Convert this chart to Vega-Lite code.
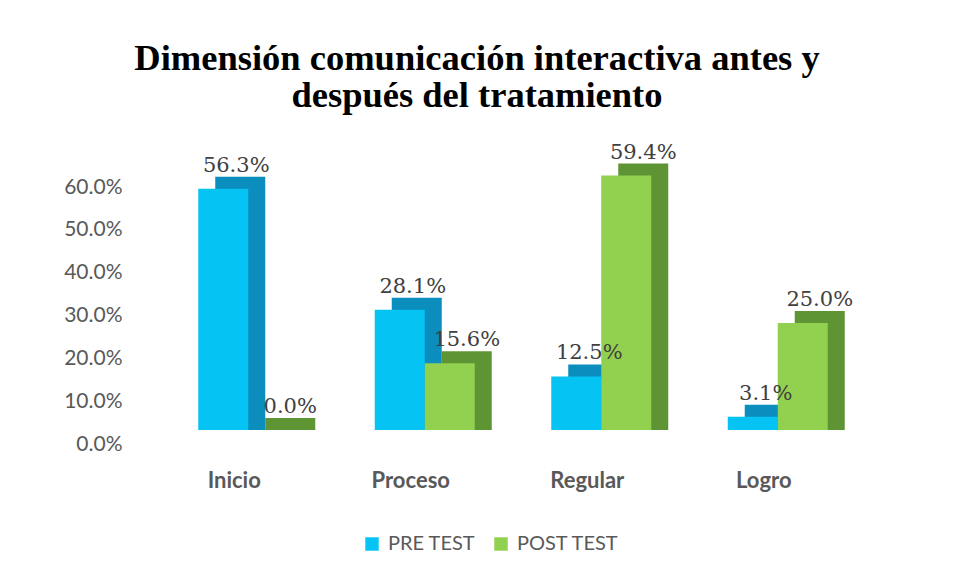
{
  "$schema": "https://vega.github.io/schema/vega-lite/v6.json",
  "width": 706,
  "height": 257,
  "autosize": {"type": "none"},
  "padding": {"left": 160, "top": 173, "right": 88, "bottom": 150},
  "background": "white",
  "title": {
    "text": ["Dimensión comunicación interactiva antes y", "después del tratamiento"],
    "font": "Liberation Serif",
    "fontSize": 36.5,
    "fontWeight": "bold",
    "color": "#000000",
    "anchor": "middle",
    "frame": "group",
    "dx": -36,
    "offset": 27,
    "lineHeight": 37
  },
  "data": {
    "values": [
      {"categoria": "Inicio", "grupo": "PRE TEST", "valor": 0.563},
      {"categoria": "Inicio", "grupo": "POST TEST", "valor": 0.0},
      {"categoria": "Proceso", "grupo": "PRE TEST", "valor": 0.281},
      {"categoria": "Proceso", "grupo": "POST TEST", "valor": 0.156},
      {"categoria": "Regular", "grupo": "PRE TEST", "valor": 0.125},
      {"categoria": "Regular", "grupo": "POST TEST", "valor": 0.594},
      {"categoria": "Logro", "grupo": "PRE TEST", "valor": 0.031},
      {"categoria": "Logro", "grupo": "POST TEST", "valor": 0.25}
    ]
  },
  "encoding": {
    "x": {
      "field": "categoria",
      "type": "nominal",
      "sort": ["Inicio", "Proceso", "Regular", "Logro"],
      "scale": {"paddingInner": 0.433, "paddingOuter": 0.2165},
      "axis": {
        "title": null,
        "domain": false,
        "ticks": false,
        "labelAngle": 0,
        "labelFont": "Lato",
        "labelFontSize": 22,
        "labelFontWeight": "bold",
        "labelColor": "#595959",
        "labelPadding": 40,
        "labelOffset": -14
      }
    },
    "y": {
      "field": "valor",
      "type": "quantitative",
      "scale": {"domain": [0, 0.6], "nice": false},
      "axis": {
        "title": null,
        "domain": false,
        "ticks": false,
        "grid": false,
        "format": ".1%",
        "values": [0, 0.1, 0.2, 0.3, 0.4, 0.5, 0.6],
        "labelFont": "Lato",
        "labelFontSize": 21,
        "labelColor": "#595959",
        "labelPadding": 38,
        "labelOffset": 14
      }
    }
  },
  "layer": [
    {
      "transform": [{"filter": "datum.grupo == 'PRE TEST'"}],
      "mark": {"type": "bar", "width": 50, "xOffset": -8, "yOffset": -12, "y2Offset": 0.01, "clip": false, "color": "#0B8DBE"},
      "encoding": {"y2": {"datum": 0}}
    },
    {
      "transform": [{"filter": "datum.grupo == 'POST TEST'"}],
      "mark": {"type": "bar", "width": 50, "xOffset": 42, "yOffset": -12, "y2Offset": 0.01, "clip": false, "color": "#5F9434"},
      "encoding": {"y2": {"datum": 0}}
    },
    {
      "transform": [{"filter": "datum.grupo == 'PRE TEST'"}],
      "mark": {"type": "bar", "width": 50, "xOffset": -25, "clip": false},
      "encoding": {
        "color": {
          "field": "grupo",
          "type": "nominal",
          "scale": {"domain": ["PRE TEST", "POST TEST"], "range": ["#05C3F3", "#92D050"]},
          "legend": {
            "title": null,
            "orient": "none",
            "direction": "horizontal",
            "legendX": 202,
            "legendY": 361,
            "symbolType": "square",
            "symbolSize": 180,
            "symbolStrokeWidth": 0,
            "labelFont": "Lato",
            "labelFontSize": 20,
            "labelColor": "#595959",
            "labelOffset": 6,
            "columnPadding": 15
          }
        }
      }
    },
    {
      "transform": [{"filter": "datum.grupo == 'POST TEST'"}],
      "mark": {"type": "bar", "width": 50, "xOffset": 25, "clip": false},
      "encoding": {
        "color": {
          "field": "grupo",
          "type": "nominal",
          "scale": {"domain": ["PRE TEST", "POST TEST"], "range": ["#05C3F3", "#92D050"]}
        }
      }
    },
    {
      "transform": [{"filter": "datum.grupo == 'PRE TEST'"}],
      "mark": {
        "type": "text",
        "font": "DejaVu Serif",
        "fontSize": 21,
        "color": "#404040",
        "baseline": "middle",
        "align": "center",
        "dx": -12,
        "dy": -23
      },
      "encoding": {
        "text": {"field": "valor", "type": "quantitative", "format": ".1%"}
      }
    },
    {
      "transform": [{"filter": "datum.grupo == 'POST TEST'"}],
      "mark": {
        "type": "text",
        "font": "DejaVu Serif",
        "fontSize": 21,
        "color": "#404040",
        "baseline": "middle",
        "align": "center",
        "dx": 42,
        "dy": -23
      },
      "encoding": {
        "text": {"field": "valor", "type": "quantitative", "format": ".1%"}
      }
    }
  ],
  "config": {"view": {"stroke": null}}
}
